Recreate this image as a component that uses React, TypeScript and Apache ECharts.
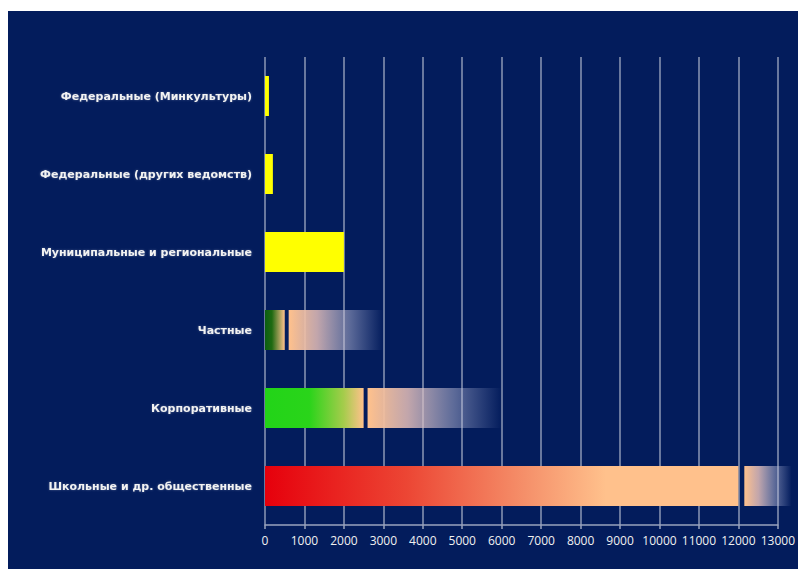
import React, { useEffect, useRef } from "react";
import * as echarts from "echarts";

const categories = [
  "Федеральные (Минкультуры)",
  "Федеральные (других ведомств)",
  "Муниципальные и региональные",
  "Частные",
  "Корпоративные",
  "Школьные и др. общественные",
];
// first (solid) segment
const solidValues = [100, 200, 2000, 500, 2500, 12000];
// separating gap between segments
const gapValues = [0, 0, 0, 100, 100, 150];
// fading (estimated) segment
const fadeValues = [0, 0, 0, 2400, 3400, 1200];
const xTicks = { min: 0, max: 13000, interval: 1000 };

const NAVY = "#031c5c";
const PEACH = "#ffc18c";

const lg = (stops: [number, string][]) =>
  new echarts.graphic.LinearGradient(
    0, 0, 1, 0,
    stops.map(([offset, color]) => ({ offset, color }))
  );

const solidColors = [
  "#ffff00",
  "#ffff00",
  "#ffff00",
  lg([[0, "#0a5e12"], [0.35, "#1f6a12"], [1, PEACH]]),
  lg([[0, "#22d418"], [0.45, "#2ad41a"], [0.8, "#a6cc4c"], [1, PEACH]]),
  lg([[0, "#e6000c"], [0.3, "#ec4634"], [0.55, "#f5906a"], [0.72, PEACH], [1, PEACH]]),
];

const fadeGradient = () =>
  lg([
    [0, "rgba(255,193,140,1)"],
    [0.3, "rgba(228,190,185,0.85)"],
    [0.65, "rgba(200,200,225,0.45)"],
    [1, "rgba(190,200,240,0)"],
  ]);

export default function App() {
  const ref = useRef<HTMLDivElement>(null);
  useEffect(() => {
    if (!ref.current) return;
    const chart = echarts.init(ref.current, null, { renderer: "svg" });
    chart.setOption({
      animation: false,
      backgroundColor: NAVY,
      grid: { left: 257, right: 18, top: 46, bottom: 44, containLabel: false },
      xAxis: {
        type: "value",
        min: xTicks.min,
        max: xTicks.max,
        interval: xTicks.interval,
        axisLine: { show: true, lineStyle: { color: "#9aa3bd", width: 1.5 } },
        axisTick: { show: true, length: 4, lineStyle: { color: "#9aa3bd", width: 1.5 } },
        splitLine: { show: true, lineStyle: { color: "#8d97b4", width: 1.5 } },
        axisLabel: {
          color: "#f0f0f0",
          fontFamily: "Open Sans",
          fontSize: 12,
          margin: 9,
          showMaxLabel: true,
          formatter: (v: number) => String(v),
        },
      },
      yAxis: {
        type: "category",
        data: categories,
        inverse: true,
        axisLine: { show: false },
        axisTick: { show: false },
        splitLine: { show: false },
        axisLabel: {
          color: "#f2f2f2",
          fontFamily: "DejaVu Sans",
          fontSize: 11,
          fontWeight: "bold",
          margin: 13,
          textShadowColor: "rgba(255,255,255,0.3)",
          textShadowBlur: 2,
        },
      },
      series: [
        {
          type: "bar",
          stack: "s",
          barWidth: 40,
          clip: false,
          data: solidValues.map((v, i) => ({ value: v, itemStyle: { color: solidColors[i] } })),
        },
        {
          type: "bar",
          stack: "s",
          barWidth: 40,
          clip: false,
          itemStyle: { color: "rgba(0,0,0,0)" },
          data: gapValues,
        },
        {
          type: "bar",
          stack: "s",
          barWidth: 40,
          clip: false,
          data: fadeValues.map((v) => ({ value: v, itemStyle: { color: fadeGradient() } })),
        },
      ],
    });
    return () => chart.dispose();
  }, []);
  return (
    <div style={{ position: "fixed", left: 0, top: 0, width: 798, height: 569, background: "#fff", overflow: "hidden" }}>
      <div ref={ref} style={{ position: "absolute", left: 8, top: 11, width: 790, height: 558 }} />
    </div>
  );
}
